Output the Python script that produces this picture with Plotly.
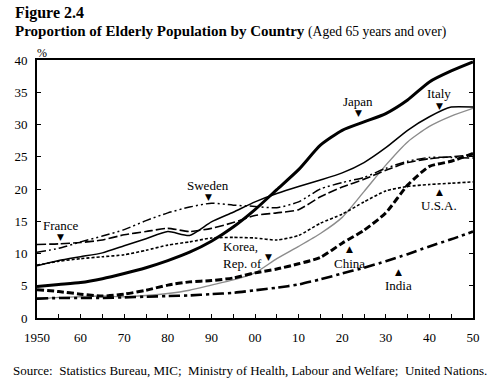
import plotly.graph_objects as go

years = list(range(1950, 2051, 5))

japan  = [4.9, 5.2, 5.5, 6.1, 6.9, 7.8, 8.9, 10.2, 11.9, 14.1, 16.8, 19.9, 23.0, 26.8, 29.1, 30.4, 31.7, 33.8, 36.6, 38.3, 39.7]
italy  = [8.1, 8.9, 9.5, 10.1, 11.2, 12.3, 13.4, 12.8, 14.9, 16.4, 18.0, 19.3, 20.4, 21.4, 22.5, 24.1, 26.4, 29.1, 31.2, 32.7, 32.7]
sweden = [10.2, 10.8, 11.8, 12.7, 13.7, 15.1, 16.3, 17.2, 17.8, 17.5, 17.3, 17.1, 18.0, 20.0, 21.0, 21.8, 23.2, 24.3, 24.9, 24.9, 24.8]
france = [11.4, 11.5, 11.7, 12.1, 12.9, 13.4, 13.9, 13.4, 13.9, 14.8, 15.9, 16.3, 16.8, 18.8, 20.3, 21.5, 22.9, 24.1, 24.7, 25.0, 25.3]
usa    = [8.2, 8.8, 9.2, 9.5, 9.8, 10.5, 11.3, 11.8, 12.4, 12.5, 12.4, 12.1, 12.8, 14.7, 16.1, 18.0, 19.7, 20.4, 20.7, 20.9, 21.1]
korea  = [2.9, 3.2, 3.3, 3.4, 3.3, 3.5, 3.8, 4.3, 5.1, 5.9, 7.0, 9.2, 11.1, 13.1, 15.6, 19.6, 23.7, 27.3, 29.7, 31.3, 32.5]
china  = [4.4, 4.1, 3.7, 3.4, 3.7, 4.3, 5.1, 5.6, 5.8, 6.2, 7.0, 7.6, 8.4, 9.4, 11.6, 13.6, 16.3, 20.6, 23.5, 24.3, 25.5]
india  = [3.0, 3.1, 3.1, 3.1, 3.2, 3.3, 3.4, 3.5, 3.7, 3.9, 4.3, 4.7, 5.2, 6.0, 6.9, 7.8, 8.8, 9.9, 11.1, 12.2, 13.4]

x_tick_vals = list(range(1950, 2051, 5))
x_tick_text = ["1950", "", "60", "", "70", "", "80", "", "90", "", "00", "", "10", "", "20", "", "30", "", "40", "", "50"]
y_tick_vals = [0, 5, 10, 15, 20, 25, 30, 35, 40]

series = [
    ("Korea", korea, dict(color="#8c8c8c", width=1.4)),
    ("India", india, dict(color="black", width=2.6, dash="11px,4px,3px,4px")),
    ("China", china, dict(color="black", width=3, dash="7px,3px")),
    ("U.S.A.", usa, dict(color="black", width=1.6, dash="3px,2px")),
    ("France", france, dict(color="black", width=1.6, dash="9px,3px")),
    ("Sweden", sweden, dict(color="black", width=1.5, dash="9px,3px,2px,3px,2px,3px")),
    ("Italy", italy, dict(color="black", width=1.5)),
    ("Japan", japan, dict(color="black", width=3)),
]

fig = go.Figure()
for name, vals, line in series:
    line = dict(line, shape="spline", smoothing=0.6)
    fig.add_trace(go.Scatter(x=years, y=vals, mode="lines", name=name, line=line,
                             hoverinfo="skip"))

serif = "Liberation Serif, Times New Roman, serif"

# labels: (text, x, y_text, y_marker, marker_down)
labels = [
    ("France", 1955.4, 14.3, 12.6, True),
    ("Sweden", 1989.3, 20.5, 18.7, True),
    ("Japan", 2023.7, 33.6, 31.8, True),
    ("Italy", 2042.3, 34.8, 32.9, True),
    ("U.S.A.", 2042.3, 17.4, 19.6, False),
    ("China", 2021.6, 8.5, 10.7, False),
    ("India", 2033.0, 5.0, 7.2, False),
]
for text, lx, ty, my, down in labels:
    fig.add_annotation(x=lx, y=ty, text=text, showarrow=False,
                       font=dict(family=serif, size=13, color="black"))
    fig.add_annotation(x=lx, y=my, text="▼" if down else "▲", showarrow=False,
                       font=dict(family="DejaVu Sans", size=9, color="black"))
fig.add_annotation(x=1992.2, y=9.8, text="Korea,<br>Rep. of", showarrow=False, align="left",
                   xanchor="left", font=dict(family=serif, size=13, color="black"))
fig.add_annotation(x=2003.0, y=9.4, text="▼", showarrow=False,
                   font=dict(family="DejaVu Sans", size=9, color="black"))

def px_x(p):
    return (p - 37) / 436.0

def px_y(p):
    return (318 - p) / 258.0

fig.add_annotation(xref="paper", yref="paper", x=px_x(13), y=px_y(13), xanchor="left", yanchor="middle",
                   text="<b>Figure 2.4</b>", showarrow=False, font=dict(family=serif, size=16, color="black"))
fig.add_annotation(xref="paper", yref="paper", x=px_x(13), y=px_y(31), xanchor="left", yanchor="middle",
                   text="<b>Proportion of Elderly Population by Country</b> <span style='font-size:13.6px'>(Aged 65 years and over)</span>",
                   showarrow=False, font=dict(family=serif, size=15, color="black"))
fig.add_annotation(xref="paper", yref="paper", x=px_x(42), y=px_y(53), xanchor="center", yanchor="middle",
                   text="%", showarrow=False, font=dict(family=serif, size=12, color="black"))
fig.add_annotation(xref="paper", yref="paper", x=px_x(250), y=px_y(370), xanchor="center", yanchor="middle",
                   text="Source:  Statistics Bureau, MIC;  Ministry of Health, Labour and Welfare;  United Nations.",
                   showarrow=False, font=dict(family=serif, size=13, color="black"))

fig.update_layout(
    width=494, height=384,
    margin=dict(l=37, r=21, t=60, b=66, autoexpand=False),
    paper_bgcolor="white", plot_bgcolor="white",
    showlegend=False,
    font=dict(family=serif, size=13, color="black"),
    xaxis=dict(range=[1950, 2050], tickvals=x_tick_vals, ticktext=x_tick_text,
               ticks="inside", ticklen=4, tickwidth=1, tickcolor="black",
               showline=True, linecolor="black", linewidth=2, mirror=True, automargin=False,
               ticklabelstandoff=6,
               showgrid=False, zeroline=False, tickfont=dict(family=serif, size=13)),
    yaxis=dict(range=[0, 40], tickvals=y_tick_vals,
               ticks="inside", ticklen=4, tickwidth=1, tickcolor="black",
               showline=True, linecolor="black", linewidth=2, mirror="ticks", automargin=False,
               ticklabelstandoff=5,
               showgrid=False, zeroline=False, tickfont=dict(family=serif, size=13)),
)

fig.write_html("out.html", config={"displayModeBar": False},
               post_script="document.body.style.margin='0';document.body.style.padding='0';")
